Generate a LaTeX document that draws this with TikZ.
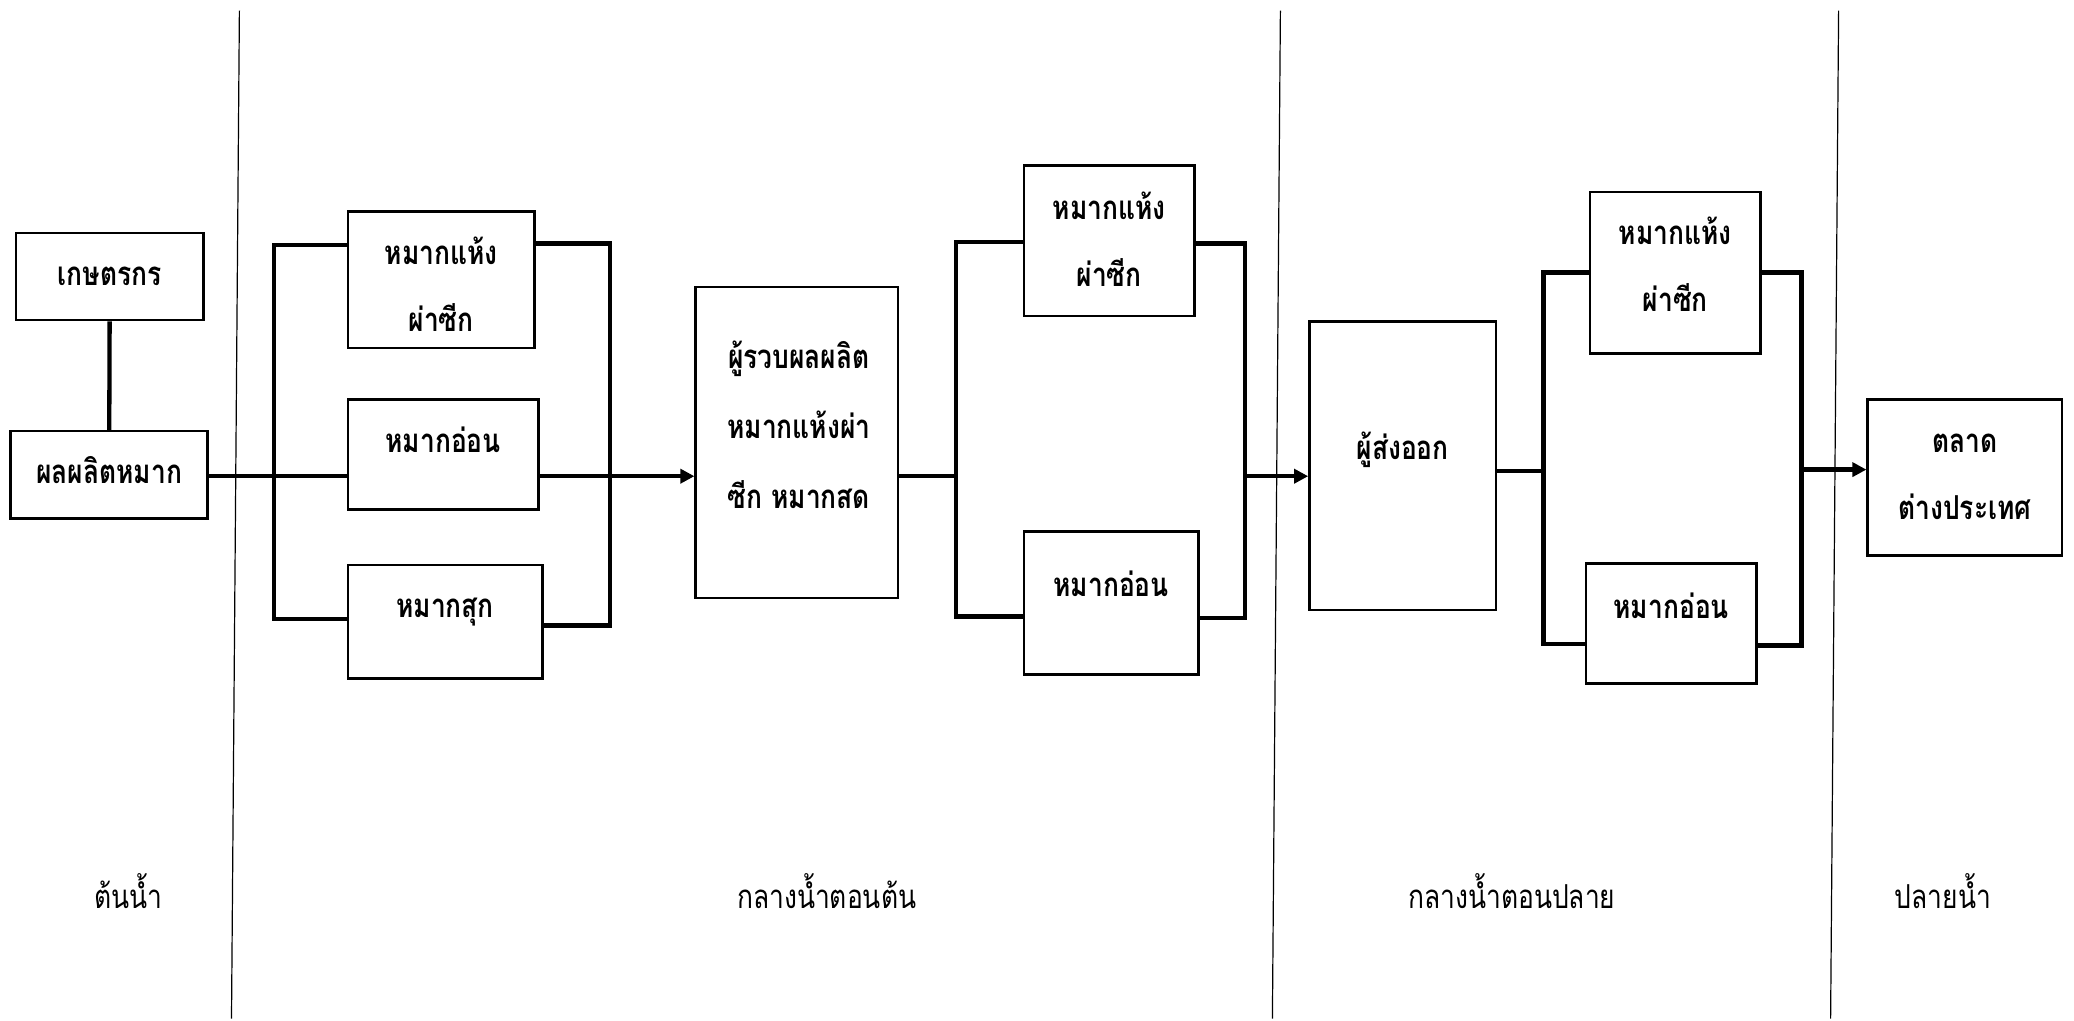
\documentclass[tikz,border=0pt]{standalone}
\usepackage{fontspec}
\setmainfont[Script=Thai,FakeStretch=0.8]{Loma}
\usetikzlibrary{arrows.meta}
\tikzset{
  box/.style={draw, line width=2.6pt, inner sep=0pt},
  conn/.style={line width=4.3pt},
  arr/.style={conn, -{Triangle[length=14pt,width=14pt]}},
  divider/.style={line width=1.2pt},
  txt/.style={anchor=base, inner sep=0pt, font=\fontsize{33}{40}\selectfont\bfseries},
  stage/.style={anchor=base, inner sep=0pt, font=\fontsize{33}{40}\selectfont},
}
\begin{document}
\begin{tikzpicture}[x=1pt,y=-1pt]
\useasboundingbox (0,0) rectangle (2074,1020);
% dividers
\draw[divider] (239.4,10.6) -- (231.5,1018.5);
\draw[divider] (1280.4,10.6) -- (1272.4,1018.5);
\draw[divider] (1838.6,10.6) -- (1830.6,1018.5);
% boxes
\node[box, minimum width=187.8pt, minimum height=87.3pt] (farmer) at (109.8,276.5) {};
\node[box, minimum width=197pt, minimum height=87.3pt] (prod) at (109.1,474.8) {};
\node[box, minimum width=186.5pt, minimum height=136.3pt] (A1) at (441.1,279.8) {};
\node[box, minimum width=190.4pt, minimum height=109.7pt] (A2) at (443.1,454.4) {};
\node[box, minimum width=194.4pt, minimum height=113.8pt] (A3) at (445.1,621.7) {};
\node[box, minimum width=202.4pt, minimum height=310.8pt] (col) at (796.9,442.5) {};
\node[box, minimum width=170.6pt, minimum height=150.8pt] (B1) at (1109.1,240.7) {};
\node[box, minimum width=174.6pt, minimum height=142.9pt] (B2) at (1111.1,603.2) {};
\node[box, minimum width=186.5pt, minimum height=288.4pt] (exp) at (1402.7,465.6) {};
\node[box, minimum width=170.6pt, minimum height=161.4pt] (C1) at (1675.2,272.5) {};
\node[box, minimum width=170.7pt, minimum height=120.3pt] (C2) at (1671.2,623.6) {};
\node[box, minimum width=194.4pt, minimum height=156pt] (mkt) at (1964.9,477.5) {};
% texts
\node[txt] (tF) at (109.8,285) {เกษตรกร};
\node[txt] (tP) at (109.1,483) {ผลผลิตหมาก};
\node[txt] (tA1a) at (441.1,264) {หมากแห้ง};
\node[txt] (tA1b) at (441.1,331) {ผ่าซีก};
\node[txt] (tA2) at (443.1,452) {หมากอ่อน};
\node[txt] (tA3) at (445.1,617) {หมากสุก};
\node[txt] (tCa) at (798.9,368) {ผู้รวบผลผลิต};
\node[txt] (tCb) at (798.9,438) {หมากแห้งผ่า};
\node[txt] (tCc) at (798.9,508) {ซีก หมากสด};
\node[txt] (tB1a) at (1109.1,219) {หมากแห้ง};
\node[txt] (tB1b) at (1109.1,286) {ผ่าซีก};
\node[txt] (tB2) at (1111.1,596) {หมากอ่อน};
\node[txt] (tE) at (1402.7,459) {ผู้ส่งออก};
\node[txt] (tC1a) at (1675.2,244) {หมากแห้ง};
\node[txt] (tC1b) at (1675.2,311) {ผ่าซีก};
\node[txt] (tC2) at (1671.2,618) {หมากอ่อน};
\node[txt] (tMa) at (1964.9,452) {ตลาด};
\node[txt] (tMb) at (1964.9,519) {ต่างประเทศ};
% stage labels
\node[stage] (s1) at (128.3,908) {ต้นน้ำ};
\node[stage] (s2) at (826.7,908) {กลางน้ำตอนต้น};
\node[stage] (s3) at (1511.8,908) {กลางน้ำตอนปลาย};
\node[stage] (s4) at (1943,908) {ปลายน้ำ};
% helper coordinates
\coordinate (b1L) at (273.8,0);
\coordinate (b1R) at (609.8,0);
\coordinate (b2L) at (956.3,0);
\coordinate (b2R) at (1244.7,0);
\coordinate (b3L) at (1543.6,0);
\coordinate (b3R) at (1801.5,0);
\coordinate (m1) at (0,476.2);
\coordinate (m3) at (0,470.9);
\coordinate (m4) at (0,469.6);
\coordinate (y1t) at (0,244.7);
\coordinate (y1b) at (0,619);
\coordinate (y1tr) at (0,243.4);
\coordinate (y1br) at (0,625.6);
\coordinate (y2t) at (0,242.1);
\coordinate (y2b) at (0,616.4);
\coordinate (y2tr) at (0,243.4);
\coordinate (y2br) at (0,617.7);
\coordinate (y3t) at (0,272.5);
\coordinate (y3b) at (0,644.2);
\coordinate (y3br) at (0,645.5);
% connectors stage 1
\draw[conn] (farmer) -- (prod);
\draw[conn] (prod.east |- m1) -- (A2.west |- m1);
\draw[conn] (A1.west |- y1t) -- (b1L |- y1t) -- (b1L |- y1b) -- (A3.west |- y1b);
\draw[conn] (A1.east |- y1tr) -- (b1R |- y1tr) -- (b1R |- y1br) -- (A3.east |- y1br);
\draw[arr] (A2.east |- m1) -- (col.west |- m1);
% stage 2
\draw[conn] (col.east |- m1) -- (b2L |- m1);
\draw[conn] (B1.west |- y2t) -- (b2L |- y2t) -- (b2L |- y2b) -- (B2.west |- y2b);
\draw[conn] (B1.east |- y2tr) -- (b2R |- y2tr) -- (b2R |- y2br) -- (B2.east |- y2br);
\draw[arr] (b2R |- m1) -- (exp.west |- m1);
% stage 3
\draw[conn] (exp.east |- m3) -- (b3L |- m3);
\draw[conn] (C1.west |- y3t) -- (b3L |- y3t) -- (b3L |- y3b) -- (C2.west |- y3b);
\draw[conn] (C1.east |- y3t) -- (b3R |- y3t) -- (b3R |- y3br) -- (C2.east |- y3br);
\draw[arr] (b3R |- m4) -- (mkt.west |- m4);
\end{tikzpicture}
\end{document}
